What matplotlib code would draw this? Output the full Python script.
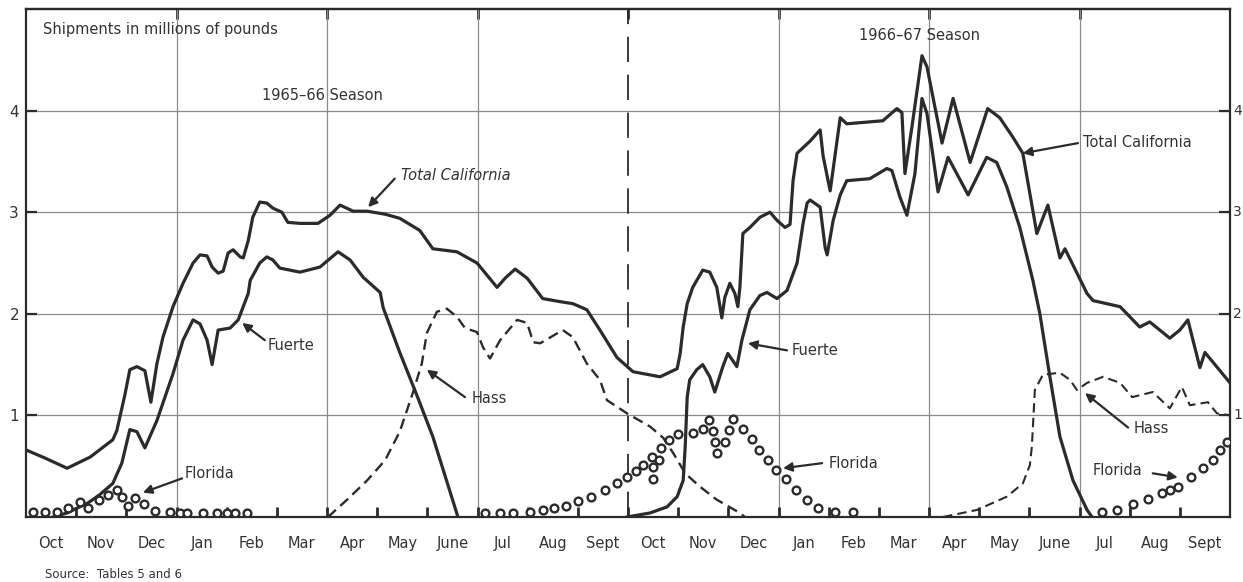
import matplotlib
matplotlib.use("Agg")
import matplotlib.pyplot as plt
import matplotlib.transforms as mtransforms
import numpy as np

# ---------------- data (x in months from Oct 1, 1965; y in millions of pounds) ----------------
total_x = [0.0, 0.38, 0.82, 1.28, 1.73, 1.81, 1.97, 2.07, 2.21, 2.37, 2.49, 2.61, 2.73, 2.93,
           3.13, 3.33, 3.47, 3.61, 3.71, 3.83, 3.93, 4.03, 4.13, 4.27, 4.33, 4.43, 4.52, 4.66,
           4.80, 4.92, 5.10, 5.22, 5.46, 5.82, 6.06, 6.26, 6.52, 6.80, 7.16, 7.45, 7.85, 8.11,
           8.59, 8.99, 9.39, 9.55, 9.75, 9.99, 10.30, 10.64, 10.90, 11.18, 11.44, 11.78, 12.10,
           12.64, 12.98, 13.04, 13.10, 13.18, 13.29, 13.49, 13.63, 13.77, 13.87, 13.93, 14.03,
           14.13, 14.19, 14.23, 14.29, 14.43, 14.63, 14.83, 14.97, 15.13, 15.23, 15.29, 15.37,
           15.63, 15.83, 15.89, 16.03, 16.23, 16.36, 17.08, 17.36, 17.46, 17.52, 17.66, 17.86,
           17.96, 18.26, 18.48, 18.82, 19.17, 19.41, 19.67, 19.87, 20.15, 20.37, 20.61, 20.71,
           21.15, 21.27, 21.81, 22.20, 22.40, 22.80, 23.00, 23.16, 23.40, 23.50, 24.0]
total_y = [0.66, 0.58, 0.48, 0.59, 0.76, 0.85, 1.20, 1.45, 1.48, 1.44, 1.13, 1.51, 1.77, 2.07,
           2.30, 2.50, 2.58, 2.57, 2.46, 2.40, 2.42, 2.60, 2.63, 2.56, 2.55, 2.72, 2.95, 3.10,
           3.09, 3.04, 3.00, 2.90, 2.89, 2.89, 2.97, 3.07, 3.01, 3.01, 2.98, 2.94, 2.82, 2.64,
           2.61, 2.50, 2.26, 2.35, 2.44, 2.35, 2.15, 2.12, 2.10, 2.04, 1.84, 1.57, 1.43,
           1.38, 1.46, 1.61, 1.87, 2.10, 2.26, 2.43, 2.41, 2.26, 1.96, 2.16, 2.30,
           2.20, 2.07, 2.26, 2.79, 2.85, 2.95, 3.00, 2.92, 2.85, 2.88, 3.31, 3.58,
           3.70, 3.81, 3.55, 3.21, 3.93, 3.87, 3.90, 4.02, 3.98, 3.38, 3.84, 4.54,
           4.43, 3.68, 4.12, 3.49, 4.02, 3.93, 3.74, 3.58, 2.79, 3.07, 2.55, 2.64,
           2.20, 2.13, 2.07, 1.87, 1.92, 1.76, 1.84, 1.94, 1.47, 1.62, 1.32]

fuerte1_x = [0.54, 0.82, 1.24, 1.47, 1.73, 1.91, 2.07, 2.21, 2.37, 2.61, 2.93, 3.13, 3.33, 3.47,
             3.61, 3.71, 3.83, 4.07, 4.23, 4.43, 4.47, 4.66, 4.80, 4.92, 5.06, 5.46, 5.86, 6.22,
             6.46, 6.72, 7.06, 7.12, 7.45, 7.79, 8.11, 8.61]
fuerte1_y = [0.0, 0.04, 0.14, 0.22, 0.33, 0.53, 0.86, 0.84, 0.68, 0.95, 1.41, 1.74, 1.94, 1.90,
             1.74, 1.50, 1.84, 1.86, 1.94, 2.20, 2.33, 2.50, 2.56, 2.53, 2.45, 2.41, 2.46, 2.61,
             2.53, 2.36, 2.21, 2.06, 1.62, 1.20, 0.79, 0.0]

fuerte2_x = [11.98, 12.44, 12.78, 12.98, 13.10, 13.14, 13.18, 13.23, 13.37, 13.49, 13.63, 13.73,
             13.89, 13.99, 14.17, 14.27, 14.43, 14.63, 14.77, 14.97, 15.17, 15.37, 15.49, 15.57,
             15.63, 15.83, 15.93, 15.97, 16.09, 16.23, 16.36, 16.82, 17.16, 17.26, 17.42, 17.56,
             17.72, 17.86, 17.96, 18.18, 18.38, 18.78, 19.15, 19.35, 19.55, 19.81, 20.07, 20.21,
             20.41, 20.61, 20.87, 21.15, 21.25]
fuerte2_y = [0.0, 0.04, 0.10, 0.20, 0.36, 0.69, 1.18, 1.35, 1.45, 1.50, 1.38, 1.23,
             1.48, 1.61, 1.48, 1.74, 2.04, 2.18, 2.21, 2.15, 2.23, 2.50, 2.89, 3.09,
             3.12, 3.05, 2.65, 2.58, 2.92, 3.17, 3.31, 3.33, 3.43, 3.41, 3.15, 2.97,
             3.38, 4.12, 3.97, 3.20, 3.54, 3.17, 3.54, 3.49, 3.25, 2.85, 2.33, 2.00,
             1.38, 0.79, 0.36, 0.07, 0.0]

hass1_x = [6.02, 6.40, 6.80, 7.16, 7.45, 7.71, 7.89, 7.99, 8.19, 8.39, 8.59, 8.75, 8.99, 9.11,
           9.25, 9.45, 9.79, 9.99, 10.11, 10.25, 10.70, 10.90, 11.18, 11.44, 11.58, 11.98,
           12.44, 12.70, 12.90, 13.14, 13.43, 13.77, 14.23, 14.33]
hass1_y = [0.0, 0.17, 0.36, 0.56, 0.84, 1.22, 1.51, 1.81, 2.02, 2.05, 1.97, 1.86, 1.82, 1.67,
           1.56, 1.74, 1.94, 1.91, 1.72, 1.71, 1.84, 1.77, 1.51, 1.35, 1.15, 1.02,
           0.89, 0.78, 0.63, 0.43, 0.30, 0.17, 0.04, 0.0]

hass2_x = [18.28, 18.96, 19.55, 19.87, 20.01, 20.05, 20.11, 20.27, 20.61, 20.81, 20.95, 21.15,
           21.47, 21.81, 22.05, 22.46, 22.80, 23.04, 23.20, 23.56, 23.74, 24.0]
hass2_y = [0.0, 0.07, 0.20, 0.33, 0.51, 0.69, 1.25, 1.40, 1.42, 1.35, 1.25, 1.32,
           1.38, 1.32, 1.18, 1.23, 1.07, 1.28, 1.10, 1.13, 1.02, 1.00]

florida_x = [0.14, 0.38, 0.62, 0.84, 1.08, 1.24, 1.46, 1.63, 1.81, 1.91, 2.03, 2.17, 2.35, 2.57,
             2.87, 3.07, 3.21, 3.53, 3.81, 4.01, 4.17, 4.41,
             9.15, 9.45, 9.71, 10.05, 10.30, 10.52, 10.76, 11.00, 11.26, 11.54, 11.78, 11.98,
             12.16, 12.30, 12.48, 12.50, 12.50, 12.62, 12.66, 12.82, 13.00, 13.29, 13.49, 13.61,
             13.69, 13.73, 13.77, 13.93, 14.01, 14.09, 14.29, 14.47, 14.61, 14.79, 14.95, 15.15,
             15.35, 15.57, 15.79, 16.13, 16.48,
             21.45, 21.75, 22.06, 22.36, 22.64, 22.80, 22.96, 23.22, 23.46, 23.66, 23.80, 23.94]
florida_y = [0.05, 0.05, 0.05, 0.09, 0.15, 0.09, 0.17, 0.22, 0.27, 0.20, 0.11, 0.19, 0.13, 0.06,
             0.05, 0.04, 0.04, 0.04, 0.04, 0.04, 0.04, 0.04,
             0.04, 0.04, 0.04, 0.05, 0.07, 0.09, 0.11, 0.16, 0.20, 0.27, 0.33, 0.39,
             0.45, 0.51, 0.59, 0.49, 0.37, 0.56, 0.68, 0.76, 0.82, 0.83, 0.87, 0.95,
             0.85, 0.74, 0.63, 0.74, 0.86, 0.96, 0.87, 0.77, 0.66, 0.56, 0.46, 0.37,
             0.27, 0.17, 0.09, 0.05, 0.05,
             0.05, 0.07, 0.13, 0.18, 0.24, 0.27, 0.30, 0.39, 0.48, 0.56, 0.66, 0.74]

month_labels = ["Oct", "Nov", "Dec", "Jan", "Feb", "Mar", "Apr", "May", "June", "Jul", "Aug", "Sept",
                "Oct", "Nov", "Dec", "Jan", "Feb", "Mar", "Apr", "May", "June", "Jul", "Aug", "Sept"]
y_ticks = [1, 2, 3, 4]

# ---------------- figure ----------------
INK = "#2b2b2b"
GRID = "#8a8a8a"
plt.rcParams["font.family"] = ["DejaVu Sans"]

fig = plt.figure(figsize=(12.43, 5.82), dpi=100)
ax = fig.add_axes([26 / 1243, 65 / 582, 1204 / 1243, 508 / 582])
ax.set_xlim(0, 24)
ax.set_ylim(0, 5.0)

# grid
for yv in y_ticks:
    ax.axhline(yv, color=GRID, lw=0.9, zorder=1)
for xv in [3, 6, 9, 15, 18, 21]:
    ax.axvline(xv, color=GRID, lw=0.9, zorder=1)
ax.axvline(12, color=INK, lw=1.3, dashes=(14, 7), zorder=1)

# series
lw_main = 2.3
ax.plot(total_x, total_y, color=INK, lw=lw_main, solid_joinstyle="round", zorder=3)
ax.plot(fuerte1_x, fuerte1_y, color=INK, lw=lw_main, solid_joinstyle="round", zorder=3)
ax.plot(fuerte2_x, fuerte2_y, color=INK, lw=lw_main, solid_joinstyle="round", zorder=3)
ax.plot(hass1_x, hass1_y, color=INK, lw=1.7, dashes=(4.5, 2.5), zorder=3)
ax.plot(hass2_x, hass2_y, color=INK, lw=1.5, dashes=(4.5, 2.5), zorder=3)
ax.plot(florida_x, florida_y, linestyle="none", marker="o", markersize=5.6,
        markerfacecolor="white", markeredgecolor=INK, markeredgewidth=1.7, zorder=4)

# axes styling
for s in ax.spines.values():
    s.set_color(INK)
    s.set_linewidth(1.6)

ax.set_xticks(np.arange(1, 24))
ax.set_xticklabels([])
ax.set_xticks(np.arange(24) + 0.5, minor=True)
ax.set_xticklabels(month_labels, minor=True)
ax.tick_params(axis="x", which="major", direction="in", length=7, width=2, color=INK)
ax.tick_params(axis="x", which="minor", length=0, pad=14, labelsize=10.5, labelcolor="#333333")

ax.set_yticks(y_ticks)
ax.set_yticklabels([str(v) for v in y_ticks])
ax.tick_params(axis="y", direction="in", length=8, width=1.6, color=INK, labelsize=11,
               labelcolor="#333333", left=True, right=True, labelleft=True, labelright=False, pad=5)

# right-side value labels (kept inside the figure edge)
right_tr = mtransforms.blended_transform_factory(ax.transAxes, ax.transData) + \
    mtransforms.ScaledTranslation(3 / 100, 0, fig.dpi_scale_trans)
for yv in y_ticks:
    ax.text(1.0, yv, str(yv), transform=right_tr, ha="left", va="center",
            fontsize=10, color="#333333", clip_on=False)

top = ax.secondary_xaxis("top")
top.set_xticks([3, 6, 9, 12, 15, 18, 21])
top.tick_params(direction="in", length=7, width=2, color=INK, labeltop=False)
top.spines["top"].set_linewidth(1.6)
top.spines["top"].set_color(INK)

# texts
txt = dict(color="#333333", fontsize=10.5)
ax.text(0.014, 0.959, "Shipments in millions of pounds", transform=ax.transAxes,
        ha="left", va="center", **txt)
ax.text(5.9, 4.15, "1965\u201366 Season", ha="center", va="center", **txt)
ax.text(17.82, 4.74, "1966\u201367 Season", ha="center", va="center", **txt)

labels = [
    ("Total California", 7.47, 3.36, (7.35, 3.33), (6.82, 3.05), True),
    ("Fuerte", 4.82, 1.69, (4.76, 1.74), (4.31, 1.91), False),
    ("Florida", 3.17, 0.43, (3.11, 0.38), (2.33, 0.24), False),
    ("Hass", 8.89, 1.17, (8.75, 1.18), (7.99, 1.45), False),
    ("Fuerte", 15.27, 1.64, (15.17, 1.64), (14.39, 1.71), False),
    ("Florida", 15.99, 0.53, (15.87, 0.53), (15.09, 0.48), False),
    ("Total California", 21.07, 3.69, (20.97, 3.68), (19.87, 3.58), False),
    ("Hass", 22.07, 0.87, (21.97, 0.88), (21.11, 1.22), False),
    ("Florida", 21.27, 0.46, (22.46, 0.43), (22.96, 0.39), False),
]
for text, tx, ty, tail, tip, ital in labels:
    ax.text(tx, ty, text, ha="left", va="center", style="italic" if ital else "normal",
            zorder=5, **txt)
    ax.annotate("", xy=tip, xytext=tail,
                arrowprops=dict(arrowstyle="-|>", color=INK, lw=1.6, mutation_scale=13,
                                shrinkA=0, shrinkB=0), zorder=5)

fig.text(45 / 1243, 1 - 575 / 582, "Source:  Tables 5 and 6", ha="left", va="center",
         color="#333333", fontsize=8.5)

fig.savefig("out.png", dpi=100)
